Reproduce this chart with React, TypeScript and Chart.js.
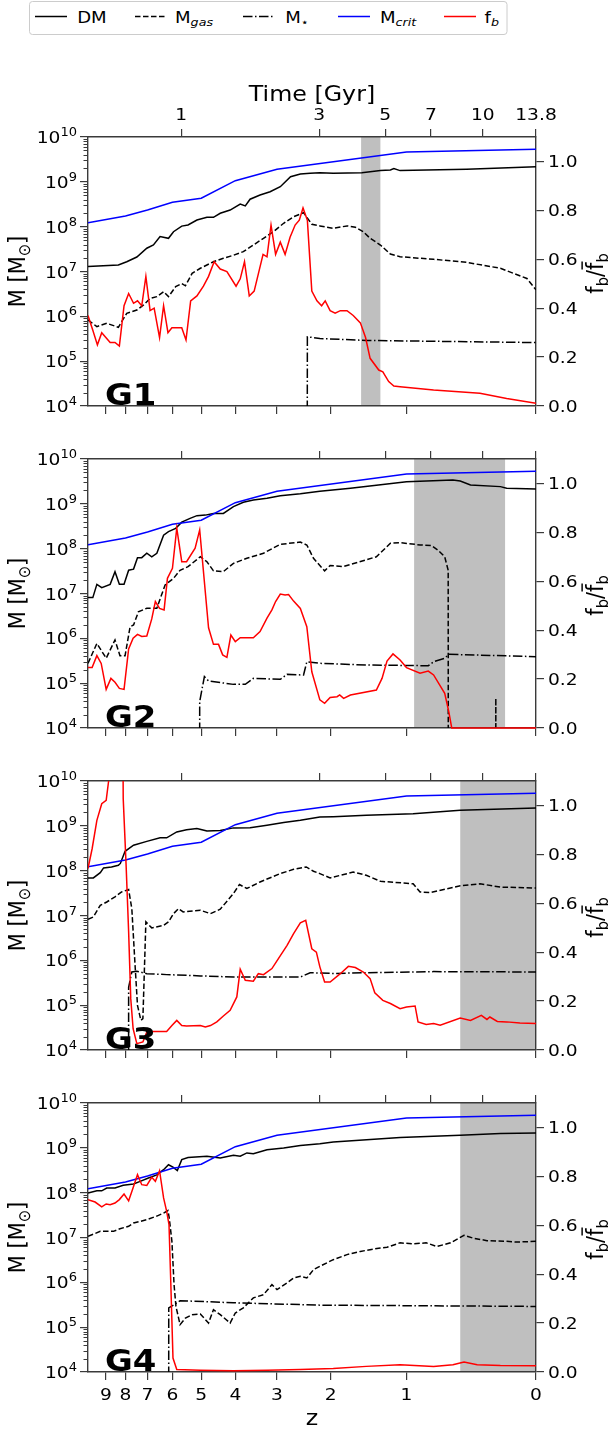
import React, { useEffect, useRef } from 'react';
import { Chart, registerables } from 'chart.js';

Chart.register(...registerables);

// ---------------- data ----------------
const zTicks = [9, 8, 7, 6, 5, 4, 3, 2, 1, 0];
const timeTicks = [1, 3, 5, 7, 10, 13.8];
const timeTickLabels = ['1', '3', '5', '7', '10', '13.8'];
const massTicks = [1e4, 1e5, 1e6, 1e7, 1e8, 1e9, 1e10];
const fracTicks = [0, 0.2, 0.4, 0.6, 0.8, 1.0];
const panelNames = ['G1', 'G2', 'G3', 'G4'];

// [redshift, value]
const mCrit = [[10, 1.22e8], [8, 1.73e8], [7, 2.35e8], [6, 3.5e8], [5, 4.3e8], [4, 1.06e9], [3, 1.9e9], [1, 4.6e9], [0, 5.3e9]];

const g1Dm = [[10, 1.3e7], [8.35, 1.4e7], [7.94, 1.65e7], [7.47, 2.1e7], [7.03, 3.3e7], [6.75, 3.9e7], [6.48, 6.0e7], [6.15, 5.5e7], [5.96, 7.7e7], [5.66, 1.03e8], [5.44, 1.09e8], [5.14, 1.41e8], [4.82, 1.62e8], [4.62, 1.62e8], [4.42, 1.99e8], [4.14, 2.35e8], [3.87, 3.2e8], [3.74, 2.9e8], [3.62, 4.1e8], [3.38, 5.1e8], [3.15, 6.0e8], [2.93, 7.8e8], [2.72, 1.3e9], [2.53, 1.5e9], [2.35, 1.55e9], [2.18, 1.6e9], [1.96, 1.55e9], [1.54, 1.6e9], [1.30, 1.78e9], [1.18, 1.84e9], [1.14, 1.97e9], [1.07, 1.78e9], [0.45, 1.9e9], [0, 2.18e9]];
const g1Gas = [[10, 8.3e5], [9.49, 5.9e5], [8.95, 7.0e5], [8.35, 5.7e5], [7.94, 1.17e6], [7.47, 1.38e6], [7.17, 1.8e6], [6.89, 2.5e6], [6.61, 2.75e6], [6.34, 3.55e6], [6.15, 2.75e6], [5.88, 4.6e6], [5.66, 5.4e6], [5.53, 4.8e6], [5.30, 9.1e6], [5.03, 1.18e7], [4.62, 1.65e7], [4.33, 1.97e7], [4.05, 2.3e7], [3.79, 2.77e7], [3.54, 3.9e7], [3.30, 5.5e7], [3.08, 7.7e7], [2.86, 1.19e8], [2.66, 1.67e8], [2.47, 2.05e8], [2.32, 1.13e8], [2.18, 1.04e8], [1.96, 9.2e7], [1.75, 1.04e8], [1.63, 9.7e7], [1.52, 7.7e7], [1.43, 5.5e7], [1.30, 3.9e7], [1.18, 2.45e7], [1.07, 2.14e7], [0.73, 1.87e7], [0.45, 1.6e7], [0.21, 1.18e7], [0.05, 7.0e6], [0, 3.9e6]];
const g1Star = [[2.42, 0], [2.40, 3.5e5], [2.18, 3.2e5], [1.48, 2.9e5], [0, 2.6e5]];
const g1Fb = [[10, 0.37], [9.72, 0.31], [9.46, 0.25], [9.22, 0.30], [8.77, 0.26], [8.52, 0.26], [8.30, 0.245], [8.07, 0.41], [7.85, 0.46], [7.62, 0.42], [7.44, 0.43], [7.25, 0.41], [7.07, 0.53], [6.89, 0.39], [6.72, 0.40], [6.50, 0.28], [6.34, 0.41], [6.17, 0.30], [6.02, 0.32], [5.84, 0.32], [5.66, 0.32], [5.51, 0.27], [5.35, 0.43], [5.14, 0.45], [4.93, 0.49], [4.77, 0.53], [4.60, 0.59], [4.42, 0.56], [4.23, 0.55], [3.98, 0.49], [3.87, 0.52], [3.76, 0.59], [3.64, 0.45], [3.52, 0.47], [3.42, 0.54], [3.31, 0.62], [3.22, 0.61], [3.13, 0.74], [3.03, 0.62], [2.93, 0.67], [2.83, 0.62], [2.73, 0.69], [2.63, 0.74], [2.55, 0.76], [2.48, 0.81], [2.40, 0.76], [2.32, 0.47], [2.23, 0.43], [2.15, 0.41], [2.09, 0.43], [2.01, 0.39], [1.93, 0.38], [1.85, 0.39], [1.75, 0.39], [1.66, 0.37], [1.56, 0.34], [1.49, 0.28], [1.43, 0.195], [1.32, 0.147], [1.27, 0.14], [1.20, 0.10], [1.14, 0.082], [1.07, 0.079], [0.73, 0.065], [0.35, 0.052], [0.17, 0.031], [0, 0.011]];

const g2Dm = [[10, 8.1e6], [9.72, 8.1e6], [9.49, 1.6e7], [9.22, 1.35e7], [8.77, 1.6e7], [8.52, 3.07e7], [8.30, 1.6e7], [8.07, 1.6e7], [7.85, 3.3e7], [7.62, 3.5e7], [7.44, 6.3e7], [7.25, 6.3e7], [7.03, 7.9e7], [6.82, 6.6e7], [6.61, 7.9e7], [6.34, 2.0e8], [6.15, 2.4e8], [5.88, 2.84e8], [5.66, 3.9e8], [5.37, 4.75e8], [5.14, 5.45e8], [4.87, 5.6e8], [4.62, 6.1e8], [4.33, 6.1e8], [4.05, 8.65e8], [3.79, 1.08e9], [3.54, 1.22e9], [3.22, 1.33e9], [2.93, 1.52e9], [2.53, 1.68e9], [2.18, 1.9e9], [1.70, 2.22e9], [1.0, 3.12e9], [0.56, 3.4e9], [0.50, 3.23e9], [0.42, 2.63e9], [0.21, 2.42e9], [0.17, 2.22e9], [0, 2.14e9]];
const g2Gas = [[10, 2.77e5], [9.49, 7.7e5], [8.98, 3.6e5], [8.52, 9.2e5], [8.27, 4.1e5], [8.02, 4.1e5], [7.78, 1.82e6], [7.62, 1.98e6], [7.40, 3.9e6], [7.03, 4.7e6], [6.61, 4.7e6], [6.28, 1.55e7], [5.96, 2.18e7], [5.72, 3.3e7], [5.44, 3.97e7], [5.03, 6.6e7], [4.82, 5.1e7], [4.62, 3.2e7], [4.33, 3.07e7], [4.05, 4.7e7], [3.70, 6.1e7], [3.30, 7.9e7], [2.93, 1.25e8], [2.53, 1.4e8], [2.41, 1.21e8], [2.29, 6.1e7], [2.10, 3.2e7], [2.01, 4.2e7], [1.80, 4.0e7], [1.35, 6.6e7], [1.18, 1.32e8], [1.07, 1.36e8], [0.86, 1.21e8], [0.75, 1.17e8], [0.69, 9.3e7], [0.63, 6.6e7], [0.60, 3.3e7], [0.595, 0], [0.245, 0], [0.24, 4.6e4], [0.235, 0], [0, 0]];
const g2Star = [[5.06, 0], [5.05, 3.9e4], [4.9, 1.4e5], [4.77, 1.12e5], [4.05, 9.4e4], [3.74, 9.4e4], [3.54, 1.28e5], [2.93, 1.22e5], [2.79, 1.57e5], [2.47, 1.52e5], [2.41, 3.0e5], [2.18, 2.77e5], [1.48, 2.54e5], [0.78, 2.45e5], [0.73, 3.0e5], [0.63, 3.6e5], [0.595, 4.4e5], [0, 3.9e5]];
const g2Fb = [[10, 0.247], [9.76, 0.247], [9.49, 0.296], [9.25, 0.264], [8.98, 0.158], [8.73, 0.203], [8.52, 0.187], [8.30, 0.162], [8.07, 0.158], [7.85, 0.323], [7.64, 0.367], [7.44, 0.383], [7.25, 0.374], [7.03, 0.376], [6.82, 0.446], [6.67, 0.517], [6.50, 0.489], [6.32, 0.483], [6.19, 0.612], [6.00, 0.653], [5.84, 0.817], [5.66, 0.68], [5.49, 0.68], [5.20, 0.735], [5.05, 0.81], [4.77, 0.41], [4.62, 0.342], [4.47, 0.342], [4.35, 0.299], [4.23, 0.289], [4.12, 0.38], [4.0, 0.353], [3.87, 0.369], [3.54, 0.369], [3.38, 0.394], [3.22, 0.449], [3.11, 0.483], [3.03, 0.517], [2.93, 0.548], [2.83, 0.544], [2.76, 0.546], [2.66, 0.519], [2.53, 0.489], [2.41, 0.414], [2.32, 0.23], [2.18, 0.115], [2.10, 0.101], [2.01, 0.125], [1.90, 0.128], [1.86, 0.135], [1.80, 0.121], [1.70, 0.135], [1.35, 0.155], [1.28, 0.203], [1.22, 0.274], [1.15, 0.303], [1.07, 0.278], [1.0, 0.247], [0.86, 0.224], [0.78, 0.233], [0.73, 0.217], [0.63, 0.142], [0.595, 0.067], [0.57, 0], [0, 0]];

const g3Dm = [[10, 6.9e7], [9.69, 6.9e7], [9.30, 9.0e7], [9.12, 1.15e8], [8.70, 1.21e8], [8.35, 1.32e8], [8.25, 1.45e8], [8.02, 2.7e8], [7.62, 3.7e8], [7.03, 4.5e8], [6.48, 5.4e8], [6.22, 5.4e8], [5.84, 7.3e8], [5.49, 8.2e8], [5.14, 8.7e8], [4.82, 7.7e8], [4.42, 7.9e8], [4.05, 9.0e8], [3.62, 9.1e8], [3.22, 1.03e9], [2.86, 1.18e9], [2.53, 1.33e9], [2.18, 1.57e9], [1.96, 1.6e9], [1.48, 1.72e9], [0.93, 1.87e9], [0.50, 2.22e9], [0, 2.5e9]];
const g3Gas = [[10, 8.2e6], [9.69, 9.3e6], [9.30, 1.69e7], [8.95, 2.0e7], [8.52, 2.6e7], [8.19, 3.35e7], [7.85, 3.8e7], [7.70, 1.42e7], [7.55, 7.7e5], [7.44, 9.9e4], [7.29, 4.6e4], [7.20, 5.0e4], [7.07, 7.2e6], [6.82, 5.3e6], [6.34, 6.0e6], [6.15, 7.2e6], [5.96, 1.1e7], [5.78, 1.42e7], [5.61, 1.2e7], [5.03, 1.31e7], [4.71, 1.1e7], [4.42, 1.38e7], [4.05, 3.1e7], [3.89, 4.9e7], [3.70, 4.0e7], [3.38, 5.6e7], [2.93, 8.6e7], [2.66, 1.07e8], [2.42, 1.21e8], [2.29, 9.7e7], [2.18, 8.6e7], [2.01, 6.9e7], [1.66, 9.3e7], [1.48, 7.9e7], [1.30, 5.8e7], [0.93, 5.1e7], [0.86, 3.35e7], [0.76, 3.24e7], [0.50, 4.6e7], [0.35, 5.1e7], [0.21, 4.3e7], [0, 4.1e7]];
const g3Star = [[7.87, 0], [7.85, 2.5e5], [7.70, 5.5e5], [7.47, 5.7e5], [7.03, 5.05e5], [6.22, 4.8e5], [5.03, 4.5e5], [4.05, 4.25e5], [2.53, 4.25e5], [2.35, 5.3e5], [1.96, 5.1e5], [1.48, 5.3e5], [0.73, 5.6e5], [0, 5.5e5]];
const g3Fb = [[10, 0.742], [9.76, 0.823], [9.49, 0.939], [9.22, 1.007], [8.98, 1.021], [8.85, 1.10], [8.5, 1.6], [8.15, 1.6], [8.11, 1.028], [7.97, 0.755], [7.85, 0.483], [7.75, 0.21], [7.64, 0.087], [7.47, 0.026], [7.20, 0.033], [7.03, 0.074], [6.75, 0.076], [6.22, 0.076], [6.02, 0.10], [5.84, 0.121], [5.66, 0.10], [5.49, 0.098], [5.03, 0.10], [4.87, 0.094], [4.71, 0.10], [4.52, 0.115], [4.33, 0.139], [4.14, 0.162], [3.96, 0.217], [3.87, 0.33], [3.74, 0.285], [3.54, 0.281], [3.42, 0.312], [3.30, 0.308], [3.11, 0.333], [2.97, 0.374], [2.79, 0.428], [2.66, 0.476], [2.53, 0.52], [2.43, 0.53], [2.32, 0.414], [2.24, 0.40], [2.18, 0.34], [2.10, 0.278], [2.01, 0.278], [1.85, 0.312], [1.73, 0.342], [1.63, 0.337], [1.52, 0.319], [1.43, 0.292], [1.37, 0.234], [1.27, 0.203], [1.18, 0.19], [1.07, 0.169], [1.0, 0.176], [0.91, 0.18], [0.88, 0.115], [0.80, 0.104], [0.73, 0.108], [0.67, 0.101], [0.50, 0.131], [0.42, 0.121], [0.34, 0.142], [0.30, 0.125], [0.28, 0.135], [0.23, 0.117], [0.17, 0.115], [0.09, 0.11], [0, 0.108]];

const g4Dm = [[10, 9.8e7], [9.49, 1.1e8], [9.22, 1.1e8], [8.95, 1.27e8], [8.52, 1.27e8], [8.11, 1.46e8], [7.62, 1.56e8], [7.32, 1.79e8], [6.96, 2.12e8], [6.61, 2.5e8], [6.34, 3.25e8], [6.15, 4.2e8], [5.98, 3.7e8], [5.82, 3.1e8], [5.66, 5.45e8], [5.44, 6.1e8], [4.82, 6.5e8], [4.42, 5.9e8], [4.05, 6.8e8], [3.87, 6.5e8], [3.70, 7.7e8], [3.54, 7.4e8], [3.22, 9.1e8], [2.86, 9.9e8], [2.53, 1.13e9], [2.18, 1.24e9], [1.96, 1.35e9], [1.07, 1.71e9], [0.50, 1.9e9], [0.21, 2.1e9], [0, 2.14e9]];
const g4Gas = [[10, 1.06e7], [9.30, 1.37e7], [8.60, 1.37e7], [8.27, 1.57e7], [7.85, 1.78e7], [7.62, 2.1e7], [7.03, 2.5e7], [6.61, 3.0e7], [6.34, 3.5e7], [6.17, 4.0e7], [6.12, 2.7e7], [6.02, 8.2e6], [5.94, 8.9e5], [5.87, 2.9e5], [5.72, 1.14e5], [5.53, 1.6e5], [5.30, 1.9e5], [5.03, 1.97e5], [4.77, 1.24e5], [4.62, 2.46e5], [4.42, 1.9e5], [4.14, 1.24e5], [4.0, 2.07e5], [3.79, 2.7e5], [3.54, 4.5e5], [3.30, 5.3e5], [3.11, 8.9e5], [3.00, 6.9e5], [2.79, 9.7e5], [2.66, 1.25e6], [2.53, 1.36e6], [2.41, 1.25e6], [2.29, 1.92e6], [2.18, 2.28e6], [1.96, 3.2e6], [1.75, 4.15e6], [1.56, 4.9e6], [1.30, 5.85e6], [1.22, 6.05e6], [1.07, 7.6e6], [0.93, 7.2e6], [0.80, 7.6e6], [0.70, 6.3e6], [0.58, 7.6e6], [0.47, 1.12e7], [0.40, 9.7e6], [0.30, 8.5e6], [0.17, 8.2e6], [0.11, 7.9e6], [0, 8.2e6]];
const g4Star = [[6.16, 0], [6.14, 2.7e5], [5.96, 3.1e5], [5.72, 3.9e5], [4.05, 3.5e5], [2.18, 3.1e5], [0, 2.9e5]];
const g4Fb = [[10, 0.705], [9.59, 0.695], [9.22, 0.675], [8.98, 0.687], [8.77, 0.684], [8.52, 0.691], [8.30, 0.705], [8.07, 0.728], [7.85, 0.70], [7.64, 0.753], [7.44, 0.807], [7.25, 0.766], [7.03, 0.763], [6.82, 0.796], [6.67, 0.78], [6.50, 0.823], [6.34, 0.712], [6.22, 0.657], [6.13, 0.603], [6.06, 0.357], [5.98, 0.057], [5.84, 0.01], [5.03, 0.007], [4.05, 0.005], [3.22, 0.007], [2.53, 0.01], [1.96, 0.014], [1.48, 0.023], [1.07, 0.03], [0.73, 0.023], [0.56, 0.03], [0.47, 0.041], [0.37, 0.03], [0.21, 0.027], [0, 0.026]];

// shaded redshift intervals [zStart, zEnd]
const g1Shade = [1.55, 1.30];
const g2Shade = [0.92, 0.18];
const g3Shade = [0.50, 0];
const g4Shade = [0.50, 0];

const PANELS = [
  { dm: g1Dm, gas: g1Gas, star: g1Star, fb: g1Fb, shade: g1Shade },
  { dm: g2Dm, gas: g2Gas, star: g2Star, fb: g2Fb, shade: g2Shade },
  { dm: g3Dm, gas: g3Gas, star: g3Star, fb: g3Fb, shade: g3Shade },
  { dm: g4Dm, gas: g4Gas, star: g4Star, fb: g4Fb, shade: g4Shade },
];

// ---------------- layout / style ----------------
const W = 609;
const PANEL_TOPS = [137, 459, 781, 1103];
const PANEL_H = 269;
const TOP_H = 62;
const BOT_H = 58;
const LEFT_W = 88;
const RIGHT_W = 73;
const CANVAS_H = TOP_H + PANEL_H + BOT_H;
const AX = '#3a3a3a';
const FONT = '"DejaVu Sans", sans-serif';
const SX = 1.13;
const TICK = 16.5;
const LABEL = 21;
const DASH = [5.5, 2.5];
const DASHDOT = [9.5, 2.5, 1.5, 2.5];

// x axis variable: log10(1+z)
const LMAX = Math.log10(11);
const toX = (z: number) => Math.log10(1 + z);

// flat LCDM cosmic time -> redshift (for the top time axis)
const H0 = 67.7;
const OM = 0.31;
function zOfTime(t: number) {
  const OL = 1 - OM;
  const hubbleTime = 977.8 / H0;
  const tc = (2 / (3 * Math.sqrt(OL))) * hubbleTime;
  const a = Math.pow(Math.sinh(t / tc) / Math.sqrt(OL / OM), 2 / 3);
  return Math.max(0, 1 / a - 1);
}

type Run = { t: string; size: number; dy?: number; italic?: boolean; bold?: boolean; bar?: boolean };
const fontOf = (r: Run) => `${r.italic ? 'italic ' : ''}${r.bold ? 'bold ' : ''}${r.size}px ${FONT}`;

function drawRuns(ctx: CanvasRenderingContext2D, runs: Run[], x: number, y: number, align: string, rotate = 0) {
  ctx.save();
  ctx.translate(x, y);
  ctx.scale(SX, 1);
  if (rotate) ctx.rotate(rotate);
  let w = 0;
  for (const r of runs) { ctx.font = fontOf(r); w += ctx.measureText(r.t).width; }
  let cx = align === 'left' ? 0 : align === 'center' ? -w / 2 : -w;
  ctx.textAlign = 'left';
  ctx.textBaseline = 'alphabetic';
  ctx.fillStyle = '#000';
  ctx.strokeStyle = '#000';
  for (const r of runs) {
    ctx.font = fontOf(r);
    const rw = ctx.measureText(r.t).width;
    ctx.fillText(r.t, cx, r.dy || 0);
    if (r.bar) {
      ctx.lineWidth = 1.3;
      ctx.beginPath();
      ctx.moveTo(cx + 0.5, -0.88 * r.size);
      ctx.lineTo(cx + rw + 1, -0.88 * r.size);
      ctx.stroke();
    }
    cx += rw;
  }
  ctx.restore();
}

const tickGrid = { drawOnChartArea: false, drawTicks: true, tickLength: 8, color: AX, tickColor: AX, tickWidth: 1.2, lineWidth: 1.2 };
const axBorder = { display: true, color: AX, width: 1.4 };

function makeConfig(index: number): any {
  const p = PANELS[index];
  const pts = (arr: number[][], log: boolean) => arr.map(([z, v]) => ({ x: toX(z), y: log && v <= 0 ? 1e-20 : v }));
  const line = (data: any, color: string, dash: number[], yAxisID: string, clip: any) => ({
    data, borderColor: color, borderWidth: 1.5, borderDash: dash, pointRadius: 0, tension: 0, fill: false, yAxisID, xAxisID: 'x', clip,
  });
  const clipMass = { left: 0, top: 0, right: 0, bottom: 0 };
  const clipFrac = { left: 0, top: 0, right: 0, bottom: 1.5 };

  const decor = {
    id: 'decor',
    beforeDraw(chart: any) {
      const { top, bottom } = chart.chartArea;
      const sx = chart.scales.x;
      const xa = sx.getPixelForValue(toX(p.shade[0]));
      const xb = sx.getPixelForValue(toX(p.shade[1]));
      const ctx = chart.ctx;
      ctx.save();
      ctx.fillStyle = '#bfbfbf';
      ctx.fillRect(xa, top, xb - xa, bottom - top);
      ctx.restore();
    },
    afterDraw(chart: any) {
      const ctx: CanvasRenderingContext2D = chart.ctx;
      const { left, right, top, bottom } = chart.chartArea;
      const sx = chart.scales.x, sx2 = chart.scales.x2, sy = chart.scales.y, sy2 = chart.scales.y2;
      // minor log ticks
      ctx.save();
      ctx.strokeStyle = AX;
      ctx.lineWidth = 1;
      for (let d = 4; d < 10; d++) {
        for (let k = 2; k < 10; k++) {
          const y = Math.round(sy.getPixelForValue(k * Math.pow(10, d))) + 0.5;
          ctx.beginPath();
          ctx.moveTo(left - 4.5, y);
          ctx.lineTo(left, y);
          ctx.stroke();
        }
      }
      ctx.restore();
      // left tick labels 10^n
      massTicks.forEach((v) => {
        const y = sy.getPixelForValue(v);
        const e = Math.round(Math.log10(v));
        drawRuns(ctx, [{ t: '10', size: TICK }, { t: String(e), size: TICK * 0.7, dy: -7 }], left - 11, y + 6, 'right');
      });
      // right tick labels
      fracTicks.forEach((v) => {
        const y = sy2.getPixelForValue(v);
        drawRuns(ctx, [{ t: v.toFixed(1), size: TICK }], right + 12, y + 6, 'left');
      });
      // bottom z labels (last panel)
      if (index === PANELS.length - 1) {
        zTicks.forEach((z) => {
          drawRuns(ctx, [{ t: String(z), size: TICK }], sx.getPixelForValue(toX(z)), bottom + 27.5, 'center');
        });
        drawRuns(ctx, [{ t: 'z', size: LABEL }], (left + right) / 2, bottom + 53, 'center');
      }
      // top time labels (first panel)
      if (index === 0) {
        timeTicks.forEach((t, i) => {
          drawRuns(ctx, [{ t: timeTickLabels[i], size: TICK }], sx2.getPixelForValue(toX(zOfTime(t))), top - 17, 'center');
        });
        drawRuns(ctx, [{ t: 'Time [Gyr]', size: LABEL }], (left + right) / 2, top - 36, 'center');
      }
      const cy = (top + bottom) / 2;
      // left axis title
      drawRuns(ctx, [{ t: 'M [M', size: LABEL }, { t: '\u2299', size: LABEL * 0.7, dy: 4 }, { t: ']', size: LABEL }], 25, cy, 'center', -Math.PI / 2);
      // right axis title
      drawRuns(ctx, [
        { t: 'f', size: LABEL }, { t: 'b', size: LABEL * 0.7, dy: 4 }, { t: '/', size: LABEL },
        { t: 'f', size: LABEL, bar: true }, { t: 'b', size: LABEL * 0.7, dy: 4 },
      ], 603, cy + 2, 'center', -Math.PI / 2);
      // panel name
      drawRuns(ctx, [{ t: panelNames[index], size: 30, bold: true }], left + 17, bottom - 1, 'left');
    },
  };

  return {
    type: 'line',
    data: {
      datasets: [
        line(pts(p.fb, false), '#ff0000', [], 'y2', clipFrac),
        line(pts(mCrit, true), '#0000ff', [], 'y', clipMass),
        line(pts(p.star, true), '#000000', DASHDOT, 'y', clipMass),
        line(pts(p.gas, true), '#000000', DASH, 'y', clipMass),
        line(pts(p.dm, true), '#000000', [], 'y', clipMass),
      ],
    },
    options: {
      animation: false,
      responsive: false,
      maintainAspectRatio: false,
      devicePixelRatio: 1,
      events: [],
      layout: { padding: 0 },
      plugins: { legend: { display: false }, tooltip: { enabled: false }, title: { display: false } },
      scales: {
        x: {
          type: 'linear', position: 'bottom', min: 0, max: LMAX, reverse: true,
          afterFit: (s: any) => { s.height = BOT_H; },
          afterBuildTicks: (s: any) => { s.ticks = zTicks.map((z) => ({ value: toX(z) })); },
          ticks: { display: false },
          grid: tickGrid,
          border: axBorder,
        },
        x2: {
          type: 'linear', position: 'top', min: 0, max: LMAX, reverse: true,
          afterFit: (s: any) => { s.height = TOP_H; },
          afterBuildTicks: (s: any) => { s.ticks = timeTicks.map((t) => ({ value: toX(zOfTime(t)) })); },
          ticks: { display: false },
          grid: tickGrid,
          border: axBorder,
        },
        y: {
          type: 'logarithmic', position: 'left', min: 1e4, max: 1e10,
          afterFit: (s: any) => { s.width = LEFT_W; },
          afterBuildTicks: (s: any) => { s.ticks = massTicks.map((v) => ({ value: v, major: true })); },
          ticks: { display: false },
          grid: tickGrid,
          border: axBorder,
        },
        y2: {
          type: 'linear', position: 'right', min: 0, max: 1.1,
          afterFit: (s: any) => { s.width = RIGHT_W; },
          afterBuildTicks: (s: any) => { s.ticks = fracTicks.map((v) => ({ value: v })); },
          ticks: { display: false },
          grid: tickGrid,
          border: axBorder,
        },
      },
    },
    plugins: [decor],
  };
}

function Panel({ index }: { index: number }) {
  const ref = useRef<HTMLCanvasElement>(null);
  useEffect(() => {
    const chart = new Chart(ref.current as HTMLCanvasElement, makeConfig(index));
    return () => chart.destroy();
  }, [index]);
  return (
    <canvas
      ref={ref}
      width={W}
      height={CANVAS_H}
      style={{ position: 'absolute', left: 0, top: PANEL_TOPS[index] - TOP_H, width: W, height: CANVAS_H }}
    />
  );
}

const LEG_FONT = 16;
function LegendText({ x, main, sub, italic }: { x: number; main: string; sub?: string; italic?: boolean }) {
  return (
    <text transform={`translate(${x},22.7) scale(${SX},1)`} fontFamily="DejaVu Sans" fontSize={LEG_FONT} fill="#000">
      {main}
      {sub ? (
        <tspan fontSize={LEG_FONT * 0.7} fontStyle={italic ? 'italic' : 'normal'} dy={3.5}>{sub}</tspan>
      ) : null}
    </text>
  );
}

function Legend() {
  return (
    <svg width={W} height={40} style={{ position: 'absolute', left: 0, top: 0 }}>
      <rect x={29.5} y={1.5} width={477.5} height={33} rx={3} ry={3} fill="#fff" stroke="#cccccc" strokeWidth={1} />
      <line x1={35} x2={67} y1={16.5} y2={16.5} stroke="#000" strokeWidth={1.5} />
      <LegendText x={77.2} main="DM" />
      <line x1={135} x2={167} y1={16.5} y2={16.5} stroke="#000" strokeWidth={1.5} strokeDasharray={DASH.join(' ')} />
      <LegendText x={175} main="M" sub="gas" italic />
      <line x1={243} x2={275} y1={16.5} y2={16.5} stroke="#000" strokeWidth={1.5} strokeDasharray={DASHDOT.join(' ')} />
      <LegendText x={285.2} main="M" sub={'\u22C6'} />
      <line x1={338} x2={370} y1={16.5} y2={16.5} stroke="#0000ff" strokeWidth={1.5} />
      <LegendText x={380} main="M" sub="crit" italic />
      <line x1={444} x2={476} y1={16.5} y2={16.5} stroke="#ff0000" strokeWidth={1.5} />
      <LegendText x={484.6} main="f" sub="b" italic />
    </svg>
  );
}

export default function App() {
  return (
    <div style={{ position: 'absolute', left: 0, top: 0, width: W, height: 1430, background: '#fff' }}>
      <Legend />
      {PANELS.map((_, i) => (
        <Panel key={i} index={i} />
      ))}
    </div>
  );
}
